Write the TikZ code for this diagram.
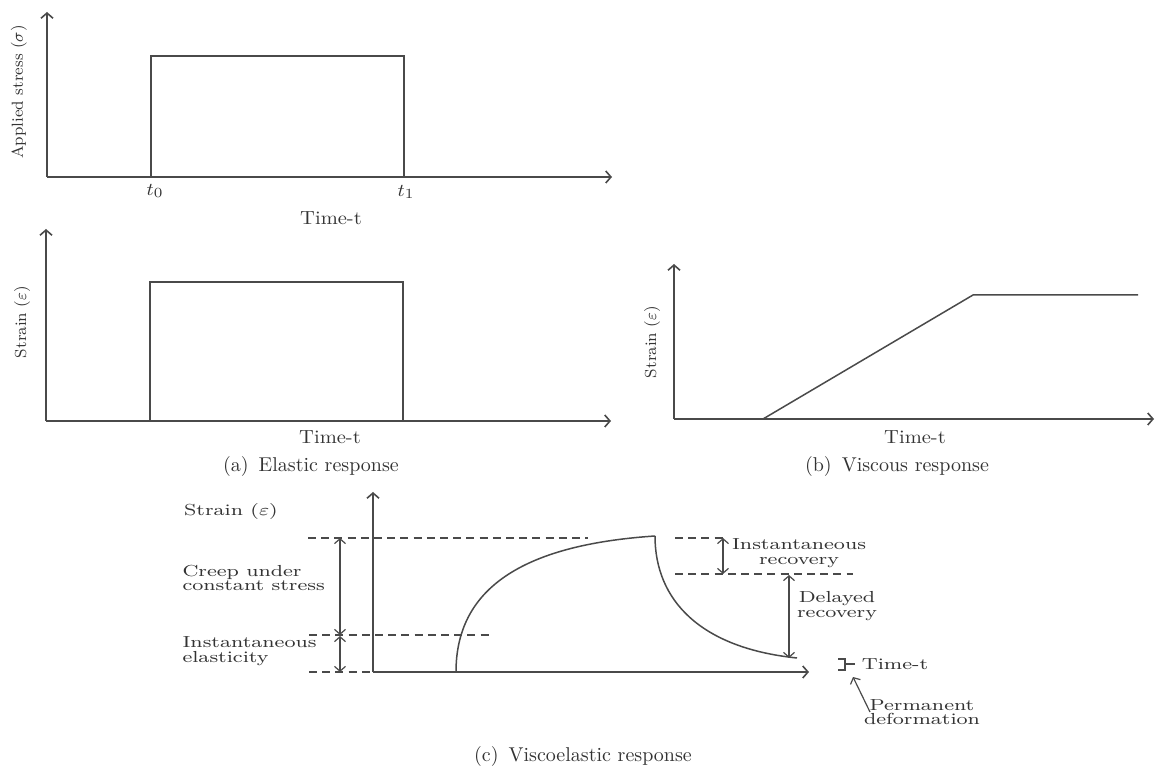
\documentclass[tikz,border=0pt]{standalone}
\usetikzlibrary{arrows.meta}
\definecolor{linegray}{HTML}{4A4A4A}
\definecolor{textgray}{HTML}{333333}
\tikzset{
  axis/.style={draw=linegray, line width=0.8pt, -{Straight Barb[length=2.6pt,width=6pt]}},
  plotline/.style={draw=linegray, line width=0.75pt},
  dashline/.style={draw=linegray, line width=0.6pt, dash pattern=on 4pt off 2.6pt},
  dimarrow/.style={draw=linegray, line width=0.6pt, {Straight Barb[length=2.4pt,width=5.5pt]}-{Straight Barb[length=2.4pt,width=5.5pt]}},
  ptrarrow/.style={draw=linegray, line width=0.6pt, -{Straight Barb[length=2.4pt,width=5.5pt]}},
  txt/.style={text=textgray, inner sep=0pt, font=\fontsize{9.5}{11}\selectfont, xscale=1.08},
  ylab/.style={text=textgray, inner sep=0pt, rotate=90, font=\fontsize{8}{9}\selectfont},
  captxt/.style={text=textgray, inner sep=0pt, font=\fontsize{10}{12}\selectfont},
  clab/.style={text=textgray, inner sep=0pt, font=\fontsize{8}{7.2}\selectfont, xscale=1.3},
}
\begin{document}
\begin{tikzpicture}[x=0.5pt,y=-0.5pt]
\useasboundingbox (0,0) rectangle (1167,769);

% ---------- Panel 1: applied stress ----------
\coordinate (o1) at (47,177);
\draw[axis] (o1) -- (47,12);
\draw[axis] (o1) -- (612,177);
\draw[plotline] (151,177) -- (151,56) -- (404,56) -- (404,177);
\node[ylab] (ylab1) at (19,92) {Applied stress ($\sigma$)};
\node[txt] (t0) at (155,191) {$t_0$};
\node[txt] (t1) at (406,192) {$t_1$};
\node[txt] (time1) at (331,218) {Time-t};

% ---------- Panel 2: elastic strain ----------
\coordinate (o2) at (46,421);
\draw[axis] (o2) -- (46,229);
\draw[axis] (o2) -- (611,421);
\draw[plotline] (150,421) -- (150,282) -- (403,282) -- (403,421);
\node[ylab] (ylab2) at (22,322) {Strain ($\varepsilon$)};
\node[txt] (time2) at (330,437) {Time-t};
\node[captxt] (capa) at (311,467) {(a)\enspace Elastic response};

% ---------- Panel 3: viscous strain ----------
\coordinate (o3) at (674,419);
\draw[axis] (o3) -- (674,264);
\draw[axis] (o3) -- (1154,419);
\draw[plotline] (763,419) -- (973,295) -- (1138,295);
\node[ylab] (ylab3) at (652,342) {Strain ($\varepsilon$)};
\node[txt] (time3) at (915,437) {Time-t};
\node[captxt] (capb) at (897,467) {(b)\enspace Viscous response};

% ---------- Panel 4: viscoelastic ----------
\coordinate (o4) at (373,672);
\draw[axis] (o4) -- (373,492);
\draw[axis] (o4) -- (809,672);

% dashed levels
\draw[dashline] (308,538) -- (588,538);
\draw[dashline] (675,538) -- (723,538);
\draw[dashline] (675,574) -- (853,574);
\draw[dashline] (309,635) -- (493,635);
\draw[dashline] (309,672) -- (373,672);

% curves
\draw[plotline] (456,672) .. controls (456,590) and (520,545) .. (655,536);
\draw[plotline] (655,536) .. controls (655,600) and (700,648) .. (797,658);

% dimension arrows
\draw[dimarrow] (340,538) -- (340,635);
\draw[dimarrow] (340,636) -- (340,672);
\draw[dimarrow] (723,538) -- (723,574);
\draw[dimarrow] (789,575) -- (789,658);

% permanent deformation bracket
\draw[plotline, line width=0.6pt] (838,659) -- (845,659) -- (845,670) -- (838,670);
\draw[plotline, line width=0.6pt] (845,664) -- (855,664);
\coordinate (ptail) at (870,712);
\coordinate (phead) at (853,677);
\draw[ptrarrow] (ptail) -- (phead);

% labels
\node[clab] (strainc) at (231,512) {Strain ($\varepsilon$)};
\node[clab, anchor=west, align=left] (creep) at (182,578) {Creep under\\constant stress};
\node[clab, anchor=west, align=left] (inel) at (182,651) {Instantaneous\\elasticity};
\node[clab, align=center] (inrec) at (799,553) {Instantaneous\\recovery};
\node[clab, align=center] (delrec) at (837,606) {Delayed\\recovery};
\node[clab] (timec) at (895,664) {Time-t};
\node[clab, align=center] (perm) at (922,712) {Permanent\\deformation};
\node[captxt] (capc) at (583,756) {(c)\enspace Viscoelastic response};
\end{tikzpicture}
\end{document}
